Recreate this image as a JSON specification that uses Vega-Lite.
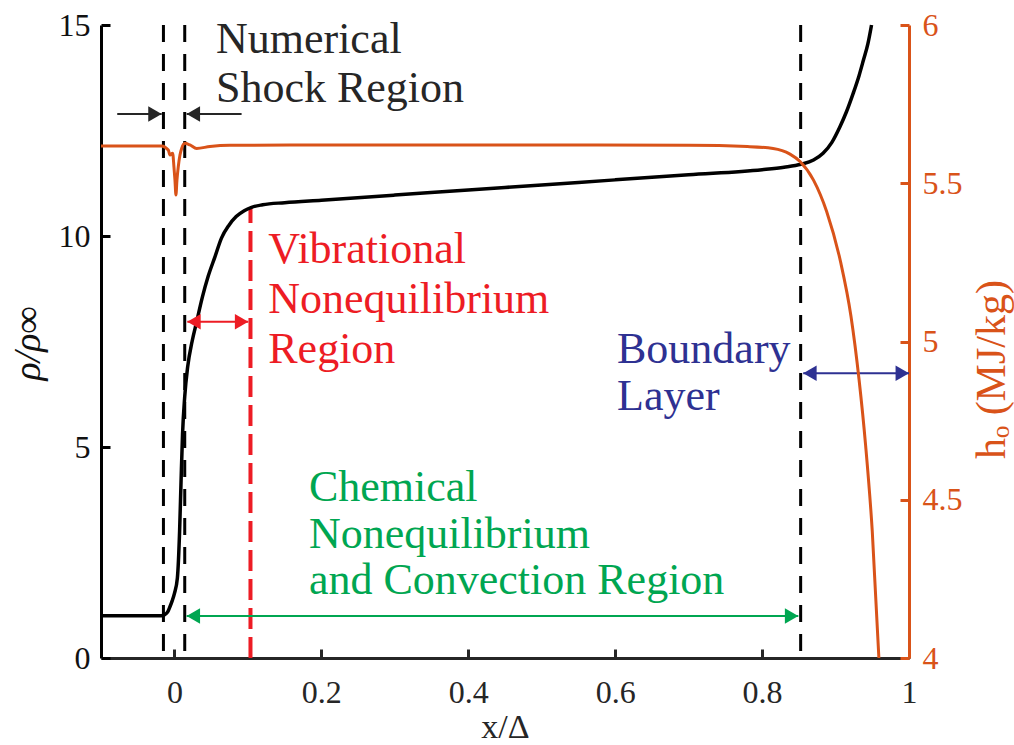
{
  "$schema": "https://vega.github.io/schema/vega-lite/v6.json",
  "width": 808,
  "height": 633,
  "autosize": {"type": "none"},
  "padding": {"left": 101, "top": 25, "right": 105, "bottom": 87},
  "background": "white",
  "config": {
    "view": {"stroke": null},
    "font": "Liberation Serif",
    "axis": {"grid": false, "labelFont": "Liberation Serif", "titleFont": "Liberation Serif", "labelFontSize": 32, "titleFontSize": 38, "titleFontWeight": "normal", "labelOverlap": false, "labelFlush": false, "labelBound": false}
  },
  "datasets": {
    "rho": [
      {"x": -0.1, "y": 1.0}, {"x": -0.03, "y": 1.0}, {"x": -0.018, "y": 1.0}, {"x": -0.013, "y": 1.03},
      {"x": -0.009, "y": 1.1}, {"x": -0.006, "y": 1.22}, {"x": -0.003, "y": 1.36}, {"x": 0.0, "y": 1.53},
      {"x": 0.004, "y": 1.9}, {"x": 0.007, "y": 3.0}, {"x": 0.009, "y": 4.2}, {"x": 0.011, "y": 5.3},
      {"x": 0.014, "y": 6.2}, {"x": 0.018, "y": 6.9}, {"x": 0.024, "y": 7.5}, {"x": 0.03, "y": 7.95},
      {"x": 0.038, "y": 8.55}, {"x": 0.046, "y": 9.05}, {"x": 0.055, "y": 9.5}, {"x": 0.064, "y": 9.95},
      {"x": 0.074, "y": 10.25}, {"x": 0.084, "y": 10.46}, {"x": 0.095, "y": 10.6}, {"x": 0.105, "y": 10.68},
      {"x": 0.12, "y": 10.74}, {"x": 0.15, "y": 10.79}, {"x": 0.2, "y": 10.85}, {"x": 0.3, "y": 10.97},
      {"x": 0.4, "y": 11.09}, {"x": 0.5, "y": 11.21}, {"x": 0.6, "y": 11.33}, {"x": 0.7, "y": 11.45},
      {"x": 0.8, "y": 11.57}, {"x": 0.83, "y": 11.63}, {"x": 0.853, "y": 11.7}, {"x": 0.87, "y": 11.8},
      {"x": 0.883, "y": 11.96}, {"x": 0.895, "y": 12.22}, {"x": 0.906, "y": 12.59}, {"x": 0.915, "y": 12.95},
      {"x": 0.924, "y": 13.38}, {"x": 0.932, "y": 13.8}, {"x": 0.938, "y": 14.17}, {"x": 0.944, "y": 14.55},
      {"x": 0.949, "y": 15.0}
    ],
    "ho": [
      {"x": -0.1, "h": 5.618}, {"x": -0.0174, "h": 5.618}, {"x": -0.0084, "h": 5.605}, {"x": -0.0061, "h": 5.589},
      {"x": -0.0025, "h": 5.595}, {"x": -0.0007, "h": 5.552}, {"x": 0.0007, "h": 5.51}, {"x": 0.002, "h": 5.463},
      {"x": 0.0034, "h": 5.51}, {"x": 0.0052, "h": 5.552}, {"x": 0.0075, "h": 5.589}, {"x": 0.0098, "h": 5.61},
      {"x": 0.0143, "h": 5.626}, {"x": 0.0211, "h": 5.621}, {"x": 0.0302, "h": 5.61}, {"x": 0.0483, "h": 5.616},
      {"x": 0.0756, "h": 5.62}, {"x": 0.157, "h": 5.621}, {"x": 0.4, "h": 5.621}, {"x": 0.7, "h": 5.62},
      {"x": 0.78, "h": 5.616}, {"x": 0.815, "h": 5.61}, {"x": 0.838, "h": 5.592}, {"x": 0.852, "h": 5.568},
      {"x": 0.87, "h": 5.51}, {"x": 0.888, "h": 5.41}, {"x": 0.907, "h": 5.25}, {"x": 0.921, "h": 5.08},
      {"x": 0.932, "h": 4.88}, {"x": 0.941, "h": 4.67}, {"x": 0.95, "h": 4.4}, {"x": 0.959, "h": 4.0}
    ],
    "vlines": [{"x": -0.015}, {"x": 0.014}, {"x": 0.8525}],
    "redline": [{"x": 0.1035, "y": 0, "y2": 10.66}],
    "shafts": [
      {"group": "shock", "x": -0.0779, "x2": -0.0174, "y": 12.89},
      {"group": "shock", "x": 0.0166, "x2": 0.0914, "y": 12.89},
      {"group": "vib", "x": 0.0175, "x2": 0.1005, "y": 7.97},
      {"group": "bl", "x": 0.856, "x2": 1.0, "y": 6.75},
      {"group": "chem", "x": 0.0166, "x2": 0.8493, "y": 0.995}
    ],
    "heads": [
      {"group": "shock", "x": -0.0174, "y": 12.89, "dir": "right"},
      {"group": "shock", "x": 0.0166, "y": 12.89, "dir": "left"},
      {"group": "vib", "x": 0.0175, "y": 7.97, "dir": "left"},
      {"group": "vib", "x": 0.1005, "y": 7.97, "dir": "right"},
      {"group": "bl", "x": 0.856, "y": 6.75, "dir": "left"},
      {"group": "bl", "x": 1.0, "y": 6.75, "dir": "right"},
      {"group": "chem", "x": 0.0166, "y": 0.995, "dir": "left"},
      {"group": "chem", "x": 0.8493, "y": 0.995, "dir": "right"}
    ],
    "labels": [
      {"group": "shock", "text": "Numerical", "x": 0.0565, "y": 14.34},
      {"group": "shock", "text": "Shock Region", "x": 0.0565, "y": 13.18},
      {"group": "vib", "text": "Vibrational", "x": 0.1277, "y": 9.353},
      {"group": "vib", "text": "Nonequilibrium", "x": 0.1277, "y": 8.168},
      {"group": "vib", "text": "Region", "x": 0.1277, "y": 6.983},
      {"group": "bl", "text": "Boundary", "x": 0.6025, "y": 7.0},
      {"group": "bl", "text": "Layer", "x": 0.6025, "y": 5.88},
      {"group": "chem", "text": "Chemical", "x": 0.183, "y": 3.72},
      {"group": "chem", "text": "Nonequilibrium", "x": 0.183, "y": 2.61},
      {"group": "chem", "text": "and Convection Region", "x": 0.183, "y": 1.52}
    ]
  },
  "layer": [
    {
      "layer": [
        {
          "data": {"name": "vlines"},
          "mark": {"type": "rule", "color": "#000000", "strokeWidth": 3, "strokeDash": [17, 12]},
          "encoding": {
            "x": {"field": "x", "type": "quantitative", "scale": {"domain": [-0.1, 1], "nice": false, "zero": false}}
          }
        },
        {
          "data": {"name": "redline"},
          "mark": {"type": "rule", "color": "#ED1C24", "strokeWidth": 4, "strokeDash": [21, 8]},
          "encoding": {
            "x": {"field": "x", "type": "quantitative", "scale": {"domain": [-0.1, 1], "nice": false, "zero": false}},
            "y": {"field": "y", "type": "quantitative", "scale": {"domain": [0, 15], "nice": false, "zero": false}},
            "y2": {"field": "y2"}
          }
        },
        {
          "data": {"name": "rho"},
          "mark": {"type": "line", "color": "#000000", "strokeWidth": 3.5, "interpolate": "monotone"},
          "encoding": {
            "x": {
              "field": "x", "type": "quantitative",
              "scale": {"domain": [-0.1, 1], "nice": false, "zero": false},
              "axis": {"title": "x/Δ", "values": [0, 0.2, 0.4, 0.6, 0.8, 1], "format": "~g", "domainColor": "#262626", "domainWidth": 3, "tickColor": "#262626", "tickWidth": 3, "tickSize": -9, "labelColor": "#262626", "labelPadding": 28, "titleColor": "#262626", "titleFontSize": 34, "titleBaseline": "alphabetic", "titleY": 79}
            },
            "y": {
              "field": "y", "type": "quantitative",
              "scale": {"domain": [0, 15], "nice": false, "zero": false},
              "axis": {"title": "ρ/ρ∞", "values": [0, 5, 10, 15], "domainColor": "#000000", "domainWidth": 3, "tickColor": "#000000", "tickWidth": 3, "tickSize": -9, "labelColor": "#111111", "labelPadding": 20, "titleColor": "#111111", "titleFontStyle": "italic", "titleBaseline": "middle", "titleX": -73, "titleY": 318}
            }
          }
        },
        {
          "data": {"name": "shafts"},
          "mark": {"type": "rule", "strokeWidth": 2},
          "encoding": {
            "x": {"field": "x", "type": "quantitative", "scale": {"domain": [-0.1, 1], "nice": false, "zero": false}},
            "x2": {"field": "x2"},
            "y": {"field": "y", "type": "quantitative", "scale": {"domain": [0, 15], "nice": false, "zero": false}},
            "color": {"field": "group", "type": "nominal", "scale": {"domain": ["shock", "vib", "bl", "chem"], "range": ["#262626", "#ED1C24", "#2E3192", "#00A651"]}, "legend": null}
          }
        },
        {
          "data": {"name": "heads"},
          "transform": [{"filter": "datum.dir === 'right'"}],
          "mark": {"type": "point", "shape": "triangle-right", "filled": true, "opacity": 1, "size": 240, "xOffset": -6.7},
          "encoding": {
            "x": {"field": "x", "type": "quantitative", "scale": {"domain": [-0.1, 1], "nice": false, "zero": false}},
            "y": {"field": "y", "type": "quantitative", "scale": {"domain": [0, 15], "nice": false, "zero": false}},
            "color": {"field": "group", "type": "nominal", "legend": null}
          }
        },
        {
          "data": {"name": "heads"},
          "transform": [{"filter": "datum.dir === 'left'"}],
          "mark": {"type": "point", "shape": "triangle-left", "filled": true, "opacity": 1, "size": 240, "xOffset": 6.7},
          "encoding": {
            "x": {"field": "x", "type": "quantitative", "scale": {"domain": [-0.1, 1], "nice": false, "zero": false}},
            "y": {"field": "y", "type": "quantitative", "scale": {"domain": [0, 15], "nice": false, "zero": false}},
            "color": {"field": "group", "type": "nominal", "legend": null}
          }
        },
        {
          "data": {"name": "labels"},
          "mark": {"type": "text", "align": "left", "baseline": "alphabetic", "fontSize": 44, "font": "Liberation Serif"},
          "encoding": {
            "x": {"field": "x", "type": "quantitative", "scale": {"domain": [-0.1, 1], "nice": false, "zero": false}},
            "y": {"field": "y", "type": "quantitative", "scale": {"domain": [0, 15], "nice": false, "zero": false}},
            "text": {"field": "text", "type": "nominal"},
            "color": {"field": "group", "type": "nominal", "legend": null}
          }
        }
      ]
    },
    {
      "data": {"name": "ho"},
      "mark": {"type": "line", "color": "#D95319", "strokeWidth": 3, "interpolate": "monotone"},
      "encoding": {
        "x": {"field": "x", "type": "quantitative", "scale": {"domain": [-0.1, 1], "nice": false, "zero": false}},
        "y": {
          "field": "h", "type": "quantitative",
          "scale": {"domain": [4, 6], "nice": false, "zero": false},
          "axis": {"orient": "right", "title": "hₒ (MJ/kg)", "values": [4, 4.5, 5, 5.5, 6], "format": "~g", "domainColor": "#D95319", "domainWidth": 3, "tickColor": "#D95319", "tickWidth": 3, "tickSize": -9, "labelColor": "#D95319", "labelPadding": 22, "titleColor": "#D95319", "titleFontSize": 42, "titleAngle": 270, "titleBaseline": "middle", "titleX": 82, "titleY": 344}
        }
      }
    }
  ],
  "resolve": {"scale": {"y": "independent"}}
}
